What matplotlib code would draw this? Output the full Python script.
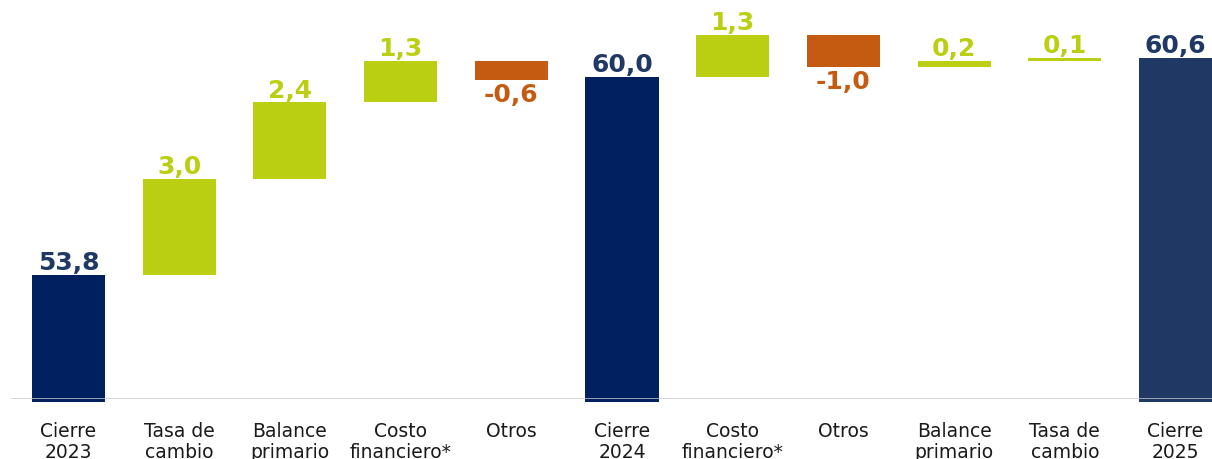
import matplotlib
matplotlib.use('Agg')
from matplotlib import pyplot as plt

categorias = ['Cierre\n2023', 'Tasa de\ncambio', 'Balance\nprimario', 'Costo\nfinanciero*',
              'Otros', 'Cierre\n2024', 'Costo\nfinanciero*', 'Otros', 'Balance\nprimario',
              'Tasa de\ncambio', 'Cierre\n2025']
valores = [53.8, 3.0, 2.4, 1.3, -0.6, 60.0, 1.3, -1.0, 0.2, 0.1, 60.6]
es_total = [True, False, False, False, False, True, False, False, False, False, True]

azul = '#00205F'
azul2 = '#1F3864'
verde = '#BBCF12'
naranja = '#C55A11'

fig = plt.figure(figsize=(12.12, 4.6), dpi=100)
ax = fig.add_axes([0.009, 0.1304, 0.991, 0.8696])

ymin = 49.93
acum = 0
for i, (v, tot) in enumerate(zip(valores, es_total)):
    if tot:
        base = ymin - 0.08
        alto = v - base
        acum = v
        color = azul2 if i == len(valores) - 1 else azul
        txtcolor = '#1F3864'
        ytxt, off, va = v, 0.5, 'bottom'
    else:
        base = acum if v > 0 else acum + v
        alto = abs(v)
        acum += v
        color = verde if v > 0 else naranja
        txtcolor = color
        if v > 0:
            ytxt, off, va = acum, 0.5, 'bottom'
        else:
            ytxt, off, va = acum, -1.5, 'top'
    ax.bar(i, alto, bottom=base, width=0.66, color=color, zorder=2, clip_on=False)
    etiqueta = f'{v:.1f}'.replace('.', ',')
    ax.annotate(etiqueta, (i, ytxt), xytext=(0, off), textcoords='offset points',
                ha='center', va=va, fontsize=18, fontweight='bold', color=txtcolor,
                annotation_clip=False)

ax.set_xlim(-0.52, 10.33)
ax.set_ylim(ymin, 62.43)
ax.axhline(ymin, color='#C8C8C8', lw=1.8, zorder=3)
ax.set_xticks(range(len(categorias)))
ax.set_xticklabels(categorias, fontsize=13.5, color='#1A1A1A', linespacing=1.1)
ax.tick_params(axis='x', length=0, pad=16)
ax.set_yticks([])
for s in ax.spines.values():
    s.set_visible(False)

fig.savefig('out.png', dpi=100)
